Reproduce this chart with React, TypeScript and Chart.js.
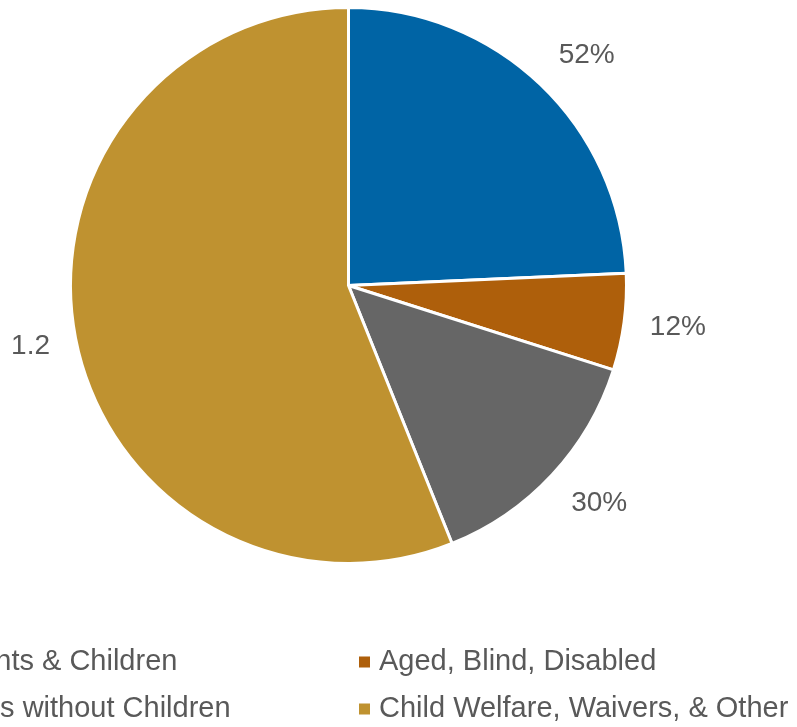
import React, { useEffect, useRef } from "react";
import { Chart, registerables } from "chart.js";

Chart.register(...registerables);

const categories = [
  "Parents & Children",
  "Aged, Blind, Disabled",
  "Adults without Children",
  "Child Welfare, Waivers, & Other",
];
const values = [0.52, 0.12, 0.3, 1.2];
const valueLabels = ["52%", "12%", "30%", "1.2"];
const colors = ["#0064A5", "#AE5F0B", "#666666", "#BF9230"];
// legend order: column-major (left column, then right column)
const legendOrder = [0, 2, 1, 3];

const FONT = "'Liberation Sans', Arial, sans-serif";
const TEXT = "#595959";

const clamp = (v: number) => Math.max(-1, Math.min(1, v));

const labelPlugin = {
  id: "outsideLabels",
  afterDatasetsDraw(chart: any) {
    const ctx = chart.ctx;
    const meta = chart.getDatasetMeta(0);
    ctx.save();
    ctx.font = `28px ${FONT}`;
    ctx.fillStyle = TEXT;
    ctx.textAlign = "center";
    ctx.textBaseline = "middle";
    meta.data.forEach((arc: any, i: number) => {
      const { x, y, startAngle, endAngle, outerRadius } = arc.getProps(
        ["x", "y", "startAngle", "endAngle", "outerRadius"],
        true
      );
      const mid = (startAngle + endAngle) / 2;
      const txt = valueLabels[i];
      const w = ctx.measureText(txt).width;
      const h = 22;
      const c = Math.cos(mid);
      const s = Math.sin(mid);
      const d = outerRadius + 26;
      const ax = x + c * d;
      const ay = y + s * d;
      const lx = ax + (w / 2) * clamp(c * 1.5);
      const ly = ay + (h / 2) * clamp(s * 1.5);
      ctx.fillText(txt, lx, ly);
    });
    ctx.restore();
  },
};

const legendPlugin = {
  id: "columnLegend",
  afterDraw(chart: any) {
    const ctx = chart.ctx;
    ctx.save();
    ctx.font = `29px ${FONT}`;
    ctx.textBaseline = "middle";
    ctx.textAlign = "left";
    const colX = [-86, 359];
    const rowY = [662, 709];
    legendOrder.forEach((idx, k) => {
      const col = Math.floor(k / 2);
      const row = k % 2;
      const mx = colX[col];
      const my = rowY[row];
      ctx.fillStyle = colors[idx];
      ctx.fillRect(mx, my - 5.5, 11, 11);
      ctx.fillStyle = TEXT;
      ctx.fillText(categories[idx], mx + 20, my);
    });
    ctx.restore();
  },
};

export default function App() {
  const ref = useRef<HTMLCanvasElement>(null);
  useEffect(() => {
    if (!ref.current) return;
    const chart = new Chart(ref.current, {
      type: "pie",
      data: {
        labels: categories,
        datasets: [
          {
            data: values,
            backgroundColor: colors,
            borderColor: "#ffffff",
            borderWidth: 3,
          },
        ],
      },
      options: {
        responsive: false,
        animation: false,
        layout: { padding: { left: 69, top: 6, right: 169, bottom: 162 } },
        plugins: {
          legend: { display: false },
          tooltip: { enabled: false },
        },
      },
      plugins: [labelPlugin, legendPlugin],
    });
    return () => chart.destroy();
  }, []);
  return (
    <div
      style={{
        position: "fixed",
        left: 0,
        top: 0,
        width: 797,
        height: 727,
        background: "#ffffff",
        overflow: "hidden",
      }}
    >
      <canvas ref={ref} width={797} height={727} />
    </div>
  );
}
